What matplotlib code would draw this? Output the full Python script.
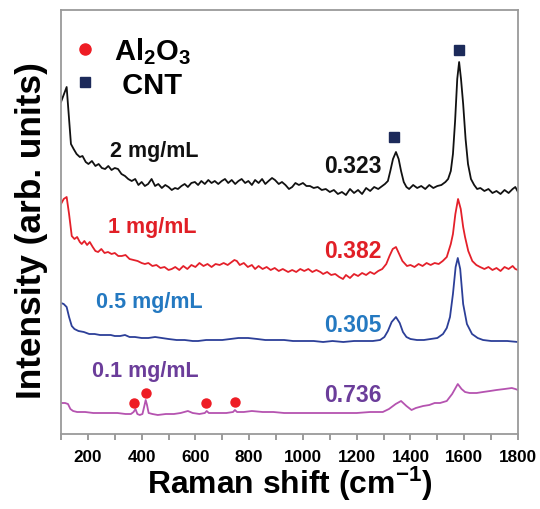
import matplotlib
matplotlib.use('Agg')
import matplotlib.pyplot as plt
from matplotlib import font_manager as fm
from matplotlib.lines import Line2D

# Raman spectra (arbitrary offset units)
wn_2 = [100, 110, 121, 130, 137, 147, 158, 170, 180, 192, 202, 215, 228, 240, 252, 264, 276, 288, 300, 312,
        325, 338, 350, 363, 376, 388, 400, 412, 424, 437, 450, 462, 475, 488, 500, 512, 524, 535, 548, 560,
        572, 585, 598, 610, 622, 635, 648, 660, 672, 685, 698, 710, 722, 735, 748, 760, 772, 785, 797, 810,
        822, 835, 848, 860, 872, 885, 896, 910, 922, 935, 948, 960, 972, 985, 1000, 1013, 1026, 1040, 1055, 1070,
        1085, 1100, 1115, 1130, 1145, 1160, 1175, 1190, 1205, 1220, 1235, 1250, 1265, 1280, 1295, 1305, 1316, 1325, 1335, 1346,
        1356, 1365, 1375, 1385, 1395, 1410, 1425, 1440, 1455, 1470, 1485, 1500, 1515, 1530, 1540, 1550, 1558, 1566, 1574, 1581,
        1588, 1596, 1605, 1614, 1625, 1637, 1648, 1660, 1675, 1690, 1705, 1720, 1735, 1750, 1765, 1780, 1790, 1800]
int_2 = [332, 339, 347, 315, 290, 285, 280, 277, 278, 272, 270, 273, 268, 270, 266, 265, 268, 264, 266, 265,
         260, 258, 255, 253, 255, 249, 252, 248, 250, 255, 248, 250, 246, 249, 247, 244, 246, 245, 248, 250,
         247, 251, 252, 249, 253, 250, 254, 251, 253, 250, 253, 255, 251, 254, 250, 253, 255, 251, 253, 249,
         254, 251, 255, 250, 253, 256, 254, 250, 252, 249, 245, 247, 251, 249, 251, 248, 248, 246, 247, 244,
         245, 242, 244, 240, 242, 239, 245, 241, 244, 240, 246, 243, 247, 245, 248, 250, 253, 263, 275, 282,
         275, 263, 252, 247, 245, 249, 246, 248, 245, 249, 246, 248, 249, 252, 255, 263, 280, 313, 355, 372,
         355, 330, 295, 270, 255, 249, 245, 246, 243, 245, 241, 243, 240, 244, 241, 245, 247, 242]

wn_1 = [100, 110, 121, 130, 140, 150, 160, 170, 177, 187, 197, 207, 218, 228, 238, 250, 262, 275, 288, 300,
        313, 326, 340, 355, 370, 385, 400, 412, 425, 440, 455, 470, 485, 500, 512, 525, 540, 555, 570, 585,
        600, 615, 630, 645, 660, 675, 690, 705, 720, 735, 745, 754, 765, 780, 795, 810, 822, 835, 850, 865,
        880, 895, 910, 925, 945, 960, 975, 990, 1005, 1020, 1035, 1050, 1065, 1075, 1090, 1105, 1120, 1135, 1149, 1160,
        1175, 1190, 1205, 1220, 1235, 1250, 1265, 1280, 1295, 1310, 1322, 1334, 1346, 1358, 1370, 1387, 1400, 1415, 1430, 1445,
        1460, 1475, 1490, 1505, 1520, 1535, 1550, 1558, 1567, 1577, 1587, 1596, 1603, 1615, 1630, 1645, 1659, 1675, 1690, 1705,
        1720, 1735, 1750, 1765, 1780, 1790, 1800]
int_1 = [230, 235, 237, 220, 198, 195, 197, 192, 190, 193, 189, 192, 187, 183, 182, 185, 181, 182, 180, 181,
         178, 178, 179, 175, 174, 173, 171, 170, 171, 168, 169, 166, 167, 164, 165, 167, 164, 168, 165, 169,
         167, 171, 168, 170, 167, 170, 169, 171, 169, 172, 174, 173, 169, 171, 167, 169, 165, 168, 165, 167,
         164, 166, 163, 165, 162, 164, 162, 165, 163, 165, 162, 164, 162, 160, 162, 159, 160, 157, 155, 159,
         156, 160, 158, 161, 159, 162, 160, 163, 165, 170, 178, 185, 187, 180, 173, 168, 169, 167, 170, 168,
         171, 169, 171, 170, 173, 177, 190, 200, 220, 235, 225, 207, 197, 183, 173, 169, 167, 165, 167, 164,
         166, 163, 167, 165, 168, 165, 164]

wn_05 = [100, 110, 121, 130, 140, 150, 165, 185, 205, 225, 245, 265, 285, 300, 320, 338, 355, 375, 400, 425,
         450, 475, 500, 530, 560, 590, 610, 640, 670, 700, 730, 760, 796, 830, 860, 900, 930, 963, 1000, 1040,
         1075, 1110, 1150, 1190, 1230, 1260, 1287, 1303, 1316, 1330, 1346, 1360, 1372, 1385, 1400, 1424, 1450, 1475, 1500, 1521,
         1535, 1547, 1558, 1568, 1576, 1585, 1596, 1610, 1629, 1650, 1670, 1700, 1730, 1760, 1800]
int_05 = [131, 130, 127, 117, 108, 105, 103, 102, 100, 100, 99, 99, 99, 98, 98, 99, 97, 97, 96, 96,
          97, 96, 95, 94, 94, 93, 93, 94, 94, 94, 95, 96, 96, 95, 94, 94, 94, 93, 93, 93,
          92, 93, 92, 93, 93, 93, 94, 97, 103, 112, 117, 111, 102, 97, 95, 94, 94, 95, 96, 100,
          106, 117, 140, 167, 176, 165, 130, 110, 100, 96, 94, 93, 93, 93, 92]

wn_01 = [100, 115, 126, 135, 145, 160, 190, 220, 250, 280, 310, 340, 360, 370, 377, 384, 393, 403, 410, 415,
         420, 426, 440, 460, 490, 520, 545, 572, 590, 615, 635, 642, 650, 680, 715, 740, 747, 755, 780, 810,
         850, 890, 930, 970, 1000, 1050, 1100, 1150, 1200, 1250, 1297, 1320, 1345, 1365, 1385, 1404, 1420, 1447, 1470, 1490,
         1510, 1535, 1555, 1576, 1590, 1603, 1620, 1646, 1670, 1696, 1720, 1750, 1777, 1790, 1800]
int_01 = [31, 31, 30, 25, 23, 22, 22, 21, 21, 21, 21, 20, 20, 22, 25, 20, 19, 20, 28, 34,
          29, 21, 20, 19, 20, 20, 21, 23, 21, 20, 21, 23, 21, 21, 21, 22, 24, 22, 22, 23,
          22, 22, 21, 21, 21, 21, 21, 21, 21, 22, 22, 25, 30, 33, 28, 24, 26, 28, 29, 31,
          31, 33, 40, 50, 45, 42, 41, 41, 42, 43, 44, 45, 46, 45, 44]

# peak markers
cnt_wn = [1340, 1581]
cnt_int = [297, 384]
al_wn = [371, 416, 639, 747]
al_int = [31, 41, 31, 32]

conc_labels = ['2 mg/mL', '1 mg/mL', '0.5 mg/mL', '0.1 mg/mL']
ratios = ['0.323', '0.382', '0.305', '0.736']

line_colors = ['#111111', '#e4202a', '#2c3f98', '#b553b0']
text_colors = ['#111111', '#e11f26', '#2479c1', '#6b3d9a']

names = {f.name for f in fm.fontManager.ttflist}
base = 'Liberation Sans' if 'Liberation Sans' in names else 'DejaVu Sans'
narrow = 'Liberation Sans Narrow' if 'Liberation Sans Narrow' in names else base
scale = 1.0 if narrow != base else 0.82

plt.rcParams['font.family'] = [base, 'DejaVu Sans']
plt.rcParams['font.weight'] = 'bold'
plt.rcParams['mathtext.fontset'] = 'custom'
plt.rcParams['mathtext.rm'] = narrow + ':bold'
plt.rcParams['mathtext.bf'] = narrow + ':bold'
plt.rcParams['mathtext.it'] = narrow + ':bold'

fig = plt.figure(figsize=(5.4, 5.1), dpi=100)
ax = fig.add_axes([61 / 540, 1 - 435 / 510, 457 / 540, 424 / 510])

series = [(wn_2, int_2), (wn_1, int_1), (wn_05, int_05), (wn_01, int_01)]
for (x, y), c in zip(series, line_colors):
    ax.plot(x, y, color=c, lw=1.3)

ax.plot(cnt_wn, cnt_int, 's', color='#1c2a5a', ms=7.5, ls='none')
ax.plot(al_wn, al_int, 'o', color='#ee1c24', ms=6.5, ls='none')

# labels: concentration on the left, ratio next to the D band
conc_pos = [(282, 278), (275, 202), (230, 127), (215, 58)]
ratio_pos = [(1294, 262), (1294, 177), (1294, 103), (1294, 33)]
for lab, (px, py), c in zip(conc_labels, conc_pos, text_colors):
    ax.text(px, py, lab, color=c, fontsize=15.5, fontweight='bold', ha='left', va='baseline')
for lab, (px, py), c in zip(ratios, ratio_pos, text_colors):
    ax.text(px, py, lab, color=c, fontsize=16.5, fontweight='bold', ha='right', va='baseline')

handles = [Line2D([], [], marker='o', color='#ee1c24', ls='none', ms=8),
           Line2D([], [], marker='s', color='#1c2a5a', ls='none', ms=7.5)]
ax.legend(handles, [r'Al$_\mathbf{2}$O$_\mathbf{3}$', ' CNT'], loc='upper left',
          bbox_to_anchor=(-0.03, 0.995), frameon=False, prop={'family': base, 'weight': 'bold', 'size': 21},
          handlelength=1.0, handletextpad=0.5, labelspacing=0.15, borderpad=0.3)

ax.set_xlim(100, 1800)
ax.set_ylim(0, 424)
ax.set_xticks(range(200, 1801, 200))
ax.set_xticks(range(100, 1801, 100), minor=True)
ax.set_yticks([])
for s in ax.spines.values():
    s.set_color('#9a9a9a')
    s.set_linewidth(1.3)
ax.tick_params(axis='x', which='both', direction='out', length=4.5, width=1.2, color='#8a8a8a', pad=6)
for t in ax.get_xticklabels():
    t.set_fontfamily(narrow)
    t.set_fontsize(15 * scale)
    t.set_fontweight('bold')

ax.set_xlabel(r'Raman shift (cm$^{\mathbf{-1}}$)', fontfamily=narrow, fontsize=28 * scale,
              fontweight='bold', labelpad=0)
ax.set_ylabel('Intensity (arb. units)', fontfamily=narrow, fontsize=31 * scale, fontweight='bold')
ax.yaxis.set_label_coords(-0.028, 0.481)

fig.savefig('out.png', dpi=100)
